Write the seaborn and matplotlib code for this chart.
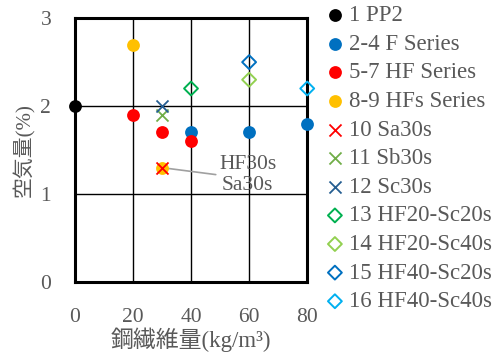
import matplotlib
matplotlib.use("Agg")
import matplotlib.pyplot as plt
import seaborn as sns
import pandas as pd

sns.set_theme(style="white")
plt.rcParams['font.family'] = ['Liberation Serif', 'Noto Sans CJK JP']

TEXT = '#595959'

labels = ['1 PP2', '2-4 F Series', '5-7 HF Series', '8-9 HFs Series',
          '10 Sa30s', '11 Sb30s', '12 Sc30s', '13 HF20-Sc20s',
          '14 HF20-Sc40s', '15 HF40-Sc20s', '16 HF40-Sc40s']
fiber = [[0], [40, 60, 80], [20, 30, 40], [20, 30],
         [30], [30], [30], [40], [60], [60], [80]]
air = [[2.0], [1.7, 1.7, 1.8], [1.9, 1.7, 1.6], [2.7, 1.3],
       [1.3], [1.9], [2.0], [2.2], [2.3], [2.5], [2.2]]
colors = ['#000000', '#0070C0', '#FF0000', '#FFC000',
          '#FF0000', '#70AD47', '#255E91', '#00B050',
          '#92D050', '#0070C0', '#00B0F0']
markers = ['o', 'o', 'o', 'o', 'x', 'x', 'x', 'D', 'D', 'D', 'D']

rows = []
for lab, xs, ys in zip(labels, fiber, air):
    for xv, yv in zip(xs, ys):
        rows.append({'series': lab, 'fiber': xv, 'air': yv})
df = pd.DataFrame(rows)

fig = plt.figure(figsize=(5.02, 3.56), dpi=100)
ax = fig.add_axes([0.149, 0.208, 0.463, 0.741])

for lab, col, mk in zip(labels, colors, markers):
    sub = df[df['series'] == lab]
    if mk == 'o':
        kw = dict(s=85, color=col, edgecolor=col, linewidth=0)
    elif mk == 'x':
        kw = dict(s=75, color=col, linewidth=1.3)
    else:
        kw = dict(s=50, facecolors='none', edgecolor=col, linewidth=1.4)
    sns.scatterplot(data=sub, x='fiber', y='air', marker=mk, ax=ax,
                    label=lab, clip_on=False, zorder=5, **kw)

ax.set_xlim(0, 80)
ax.set_ylim(0, 3)
ax.set_xticks([0, 20, 40, 60, 80])
ax.set_yticks([0, 1, 2, 3])
ax.grid(True, color='black', linewidth=1.0)
ax.set_axisbelow(True)
for sp in ax.spines.values():
    sp.set_visible(True)
    sp.set_color('black')
    sp.set_linewidth(2.2)
ax.tick_params(axis='both', length=0, labelsize=15.5, labelcolor=TEXT)
ax.tick_params(axis='x', pad=19)
ax.tick_params(axis='y', pad=17)

ax.set_xlabel('鋼繊維量(kg/m³)', fontsize=16.5, color=TEXT, labelpad=0)
ax.set_ylabel('空気量(%)', fontsize=15, color=TEXT, labelpad=4)

ax.annotate('HF30s\nSa30s', xy=(30, 1.3), xytext=(59.5, 1.216),
            ha='center', va='center', fontsize=15.5, color=TEXT,
            linespacing=1.2,
            arrowprops=dict(arrowstyle='-', color='#A0A0A0', lw=1.2,
                            shrinkA=0, shrinkB=0,
                            relpos=(0.0, 0.5)))

leg = ax.legend(loc='upper left', bbox_to_anchor=(1.055, 1.084), frameon=False,
                fontsize=16.5, handlelength=0.5, handletextpad=0.35,
                labelspacing=0.33, borderaxespad=0)
for t in leg.get_texts():
    t.set_color(TEXT)

fig.savefig('out.png', dpi=100)
